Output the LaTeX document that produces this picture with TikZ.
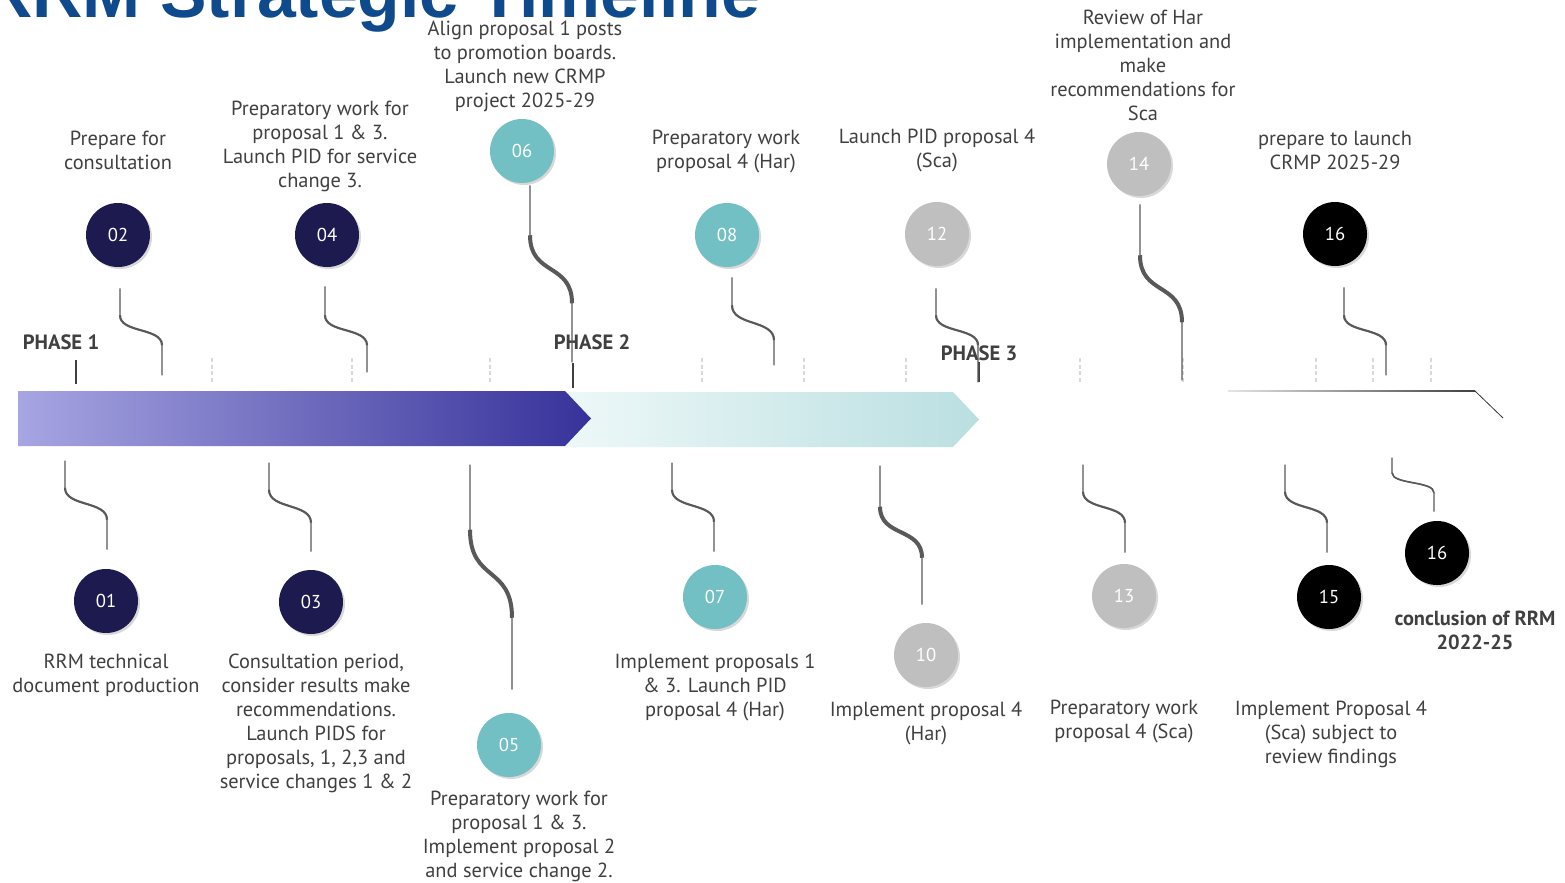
\documentclass[tikz,border=0pt]{standalone}
\usepackage{fontspec}
\setmainfont{PT Sans}
\newfontfamily\titlefont{Liberation Sans}
\usetikzlibrary{calc,shadows}
\definecolor{navy}{HTML}{1C1A4F}
\definecolor{teal}{HTML}{72BFC4}
\definecolor{lgray}{HTML}{BFBFBF}
\definecolor{txtgray}{HTML}{404040}
\definecolor{leadgray}{HTML}{595959}
\definecolor{tickgray}{HTML}{D9D9D9}
\definecolor{titleblue}{HTML}{0E4A8C}
\definecolor{ph1a}{HTML}{A7A5E2}
\definecolor{ph1m}{HTML}{8E8ACB}
\definecolor{ph1b}{HTML}{36329A}
\definecolor{ph2a}{HTML}{EEF8F8}
\definecolor{ph2b}{HTML}{BADFE1}
\tikzset{
    lbl/.style = {text=txtgray, align=center, inner sep=0pt, font=\fontsize{15.3}{18}\selectfont},
    dot/.style = {circle, minimum size=48pt, inner sep=0pt, text=white, font=\fontsize{14}{16}\selectfont,
                  drop shadow={shadow xshift=1.5pt, shadow yshift=-1.5pt, opacity=0.3}},
    lead/.style = {draw=leadgray, line width=0.9pt},
    wig/.style = {draw=leadgray, line width=#1},
    wig/.default = 1.6pt,
    faint/.style = {draw=tickgray, line width=0.9pt, dash pattern=on 3pt off 2pt},
    phasetick/.style = {draw=txtgray, line width=2.2pt},
    phase/.style = {text=txtgray, inner sep=0pt, font=\bfseries\fontsize{15.5}{18}\selectfont},
}

\begin{document}
\begin{tikzpicture}[x=0.75pt, y=-0.75pt]
\useasboundingbox (0,0) rectangle (1565,882);
\fill[white] (0,0) rectangle (1565,882);

% title, cut by the top edge
\node[anchor=base west, inner sep=0pt, text=titleblue, font=\titlefont\bfseries\fontsize{52.3}{60}\selectfont] (title) at (-18,17) {RRM Strategic Timeline};

% phase bars
\shade[left color=ph2a, right color=ph2b] (565,392) -- (953,392) -- (979,419.5) -- (953,447) -- (565,447) -- cycle;
\shade[left color=ph1a, middle color=ph1m, right color=ph1b] (18,391) -- (565,391) -- (591,418.5) -- (565,446) -- (18,446) -- cycle;
\shade[left color=black!10, right color=black!75] (1228,390.3) rectangle (1475,391.7);
\draw[black!80, line width=0.6pt] (1475,391) -- (1503,418);

% ticks above the bars
\foreach \x in {212,352,490,702,804,906,1080,1183,1316,1373,1431}
    \draw[faint] (\x,358) -- (\x,384);
\draw[phasetick] (76,360) -- (76,384);
\draw[phasetick] (573,363) -- (573,388);
\draw[phasetick] (979,362) -- (979,382);

\node[phase] (ph1) at (61,342) {PHASE 1};
\node[phase] (ph2) at (592,342) {PHASE 2};
\node[phase] (ph3) at (979,353) {PHASE 3};

% milestones above the bars
\node[dot, fill=navy]  (c02)  at (118,235)  {02};
\node[dot, fill=navy]  (c04)  at (327,235)  {04};
\node[dot, fill=teal]  (c06)  at (522,151)  {06};
\node[dot, fill=teal]  (c08)  at (727,235)  {08};
\node[dot, fill=lgray] (c12)  at (937,234)  {12};
\node[dot, fill=lgray] (c14)  at (1139,164) {14};
\node[dot, fill=black] (c16a) at (1335,234) {16};

% milestones below the bars
\node[dot, fill=navy]  (c01)  at (106,601)  {01};
\node[dot, fill=navy]  (c03)  at (311,602)  {03};
\node[dot, fill=teal]  (c05)  at (509,745)  {05};
\node[dot, fill=teal]  (c07)  at (715,597)  {07};
\node[dot, fill=lgray] (c10)  at (926,655)  {10};
\node[dot, fill=lgray] (c13)  at (1124,596) {13};
\node[dot, fill=black] (c15)  at (1329,597) {15};
\node[dot, fill=black] (c16b) at (1437,553) {16};

% leads from the upper dots down to the bars
\foreach \n/\dx/\gap/\a/\h/\b/\w in {02/2/21/27/30/30/1.6pt, 04/-2/19/29/30/27/1.6pt, 06/8/2/50/68/59/3pt,
        08/5/10/28/35/25/1.6pt, 12/-1/22/27/30/37/1.6pt, 14/1/8/51/67/58/3pt, 16a/9/21/28/30/30/1.6pt}
{
    \draw[lead] ($(c\n.south)+(\dx,\gap)$) -- ++(0,\a) coordinate (s1)
        .. controls +(0,0.6*\h) and +(0,-0.6*\h) .. ++(42,\h) coordinate (s2) -- ++(0,\b);
    \draw[wig=\w] (s1) .. controls +(0,0.6*\h) and +(0,-0.6*\h) .. (s2);
}

% leads from the lower dots up to the bars
\foreach \n/\dx/\gap/\b/\h/\a/\w in {01/1/19/30/32/27/1.6pt, 03/0/18/29/33/27/1.6pt, 05/3/23/72/88/65/3pt,
        07/-1/13/30/32/27/1.6pt, 10/-4/18/47/51/41/3pt, 13/1/11/30/31/27/1.6pt, 15/-2/12/30/31/27/1.6pt,
        16b/-3/9/19/20/15/1.2pt}
{
    \draw[lead] ($(c\n.north)+(\dx,-\gap)$) -- ++(0,-\b) coordinate (s1)
        .. controls +(0,-0.6*\h) and +(0,0.6*\h) .. ++(-42,-\h) coordinate (s2) -- ++(0,-\a);
    \draw[wig=\w] (s1) .. controls +(0,-0.6*\h) and +(0,0.6*\h) .. (s2);
}

% texts
\node[lbl] (l02)  at (118,150)  {Prepare for\\consultation};
\node[lbl] (l04)  at (320,146)  {Preparatory work for\\proposal 1 \& 3.\\Launch PID for service\\change 3.};
\node[lbl] (l06)  at (525,66)   {Align proposal 1 posts\\to promotion boards.\\Launch new CRMP\\project 2025-29};
\node[lbl] (l08)  at (726,152)  {Preparatory work\\proposal 4 (Har)};
\node[lbl] (l12)  at (937,150)  {Launch PID proposal 4\\(Sca)};
\node[lbl] (l14)  at (1143,65)  {Review of Har\\implementation and\\make\\recommendations for\\Sca};
\node[lbl] (l16a) at (1335,150) {prepare to launch\\CRMP 2025-29};

\node[lbl] (l01)  at (106,675)  {RRM technical\\document production};
\node[lbl] (l03)  at (316,723)  {Consultation period,\\consider results make\\recommendations.\\Launch PIDS for\\proposals, 1, 2,3 and\\service changes 1 \& 2};
\node[lbl] (l05)  at (519,836)  {Preparatory work for\\proposal 1 \& 3.\\Implement proposal 2\\and service change 2.};
\node[lbl] (l07)  at (715,687)  {Implement proposals 1\\\& 3. Launch PID\\proposal 4 (Har)};
\node[lbl] (l10)  at (926,723)  {Implement proposal 4\\(Har)};
\node[lbl] (l13)  at (1124,722) {Preparatory work\\proposal 4 (Sca)};
\node[lbl] (l15)  at (1331,734) {Implement Proposal 4\\(Sca) subject to\\review findings};
\node[lbl, font=\bfseries\fontsize{15.3}{18}\selectfont] (l16b) at (1475,630) {conclusion of RRM\\2022-25};
\end{tikzpicture}
\end{document}
